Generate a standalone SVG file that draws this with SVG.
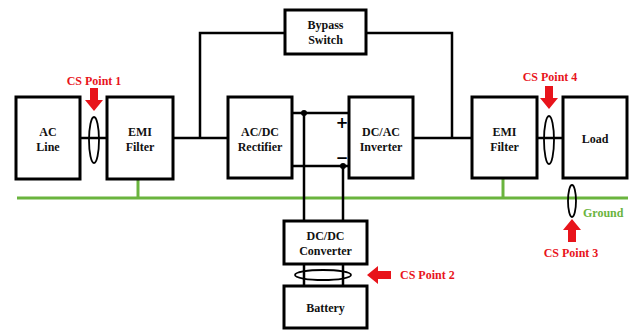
<svg xmlns="http://www.w3.org/2000/svg" width="632" height="332" viewBox="0 0 632 332">
<defs>
<style>
.box{fill:#fff;stroke:#000;stroke-width:3}
.w{fill:none;stroke:#000;stroke-width:2.5}
.g{fill:none;stroke:#6ab43e;stroke-width:3}
.ring{fill:none;stroke:#000;stroke-width:1.8}
.t{font-family:"Liberation Serif","Times New Roman",serif;font-weight:bold;font-size:12px;text-anchor:middle;fill:#111}
.r{font-family:"Liberation Serif","Times New Roman",serif;font-weight:bold;font-size:12px;fill:#e8141b}
.gt{font-family:"Liberation Serif","Times New Roman",serif;font-weight:bold;font-size:12px;fill:#6ab43e}
.arr{fill:#e8141b}
.sign{font-family:"DejaVu Sans",sans-serif;font-weight:bold;font-size:15px;text-anchor:middle;fill:#000}
</style>
</defs>
<rect width="632" height="332" fill="#fff"/>
<g id="connectors">
<line class="g" x1="17" y1="198" x2="628" y2="198"/>
<line class="g" x1="138" y1="179" x2="138" y2="198"/>
<line class="g" x1="503" y1="178" x2="503" y2="198"/>
<line class="w" x1="80" y1="138" x2="107" y2="138"/>
<line class="w" x1="173" y1="138" x2="228" y2="138"/>
<polyline class="w" points="200,138 200,33 285,33"/>
<polyline class="w" points="366,33 452,33 452,138"/>
<line class="w" x1="413" y1="138" x2="472" y2="138"/>
<line class="w" x1="537" y1="138" x2="563" y2="138"/>
<line class="w" x1="292" y1="113" x2="349" y2="113"/>
<line class="w" x1="292" y1="166" x2="349" y2="166"/>
<line class="w" x1="304" y1="113" x2="304" y2="286"/>
<line class="w" x1="343" y1="166" x2="343" y2="286"/>
<circle cx="304" cy="113" r="3"/>
<circle cx="343" cy="166" r="3"/>
<text x="342" y="128" class="sign">+</text>
<text x="342" y="163" class="sign">−</text>
</g>
<g id="ac-line"><rect class="box" x="16" y="97" width="64" height="82"/><text class="t" x="48" y="136">AC</text><text class="t" x="48" y="151">Line</text></g>
<g id="emi-filter-1"><rect class="box" x="107" y="97" width="66" height="82"/><text class="t" x="140" y="136">EMI</text><text class="t" x="140" y="151">Filter</text></g>
<g id="bypass-switch"><rect class="box" x="285" y="10" width="81" height="44"/><text class="t" x="325.5" y="29">Bypass</text><text class="t" x="325.5" y="44">Switch</text></g>
<g id="acdc-rectifier"><rect class="box" x="228" y="97" width="64" height="81"/><text class="t" x="260" y="136">AC/DC</text><text class="t" x="260" y="151">Rectifier</text></g>
<g id="dcac-inverter"><rect class="box" x="349" y="97" width="64" height="81"/><text class="t" x="381" y="136">DC/AC</text><text class="t" x="381" y="151">Inverter</text></g>
<g id="emi-filter-2"><rect class="box" x="472" y="97" width="65" height="81"/><text class="t" x="504.5" y="136">EMI</text><text class="t" x="504.5" y="151">Filter</text></g>
<g id="load"><rect class="box" x="563" y="97" width="64" height="81"/><text class="t" x="595" y="143">Load</text></g>
<g id="dcdc-converter"><rect class="box" x="284" y="221" width="83" height="43"/><text class="t" x="325.5" y="240">DC/DC</text><text class="t" x="325.5" y="255">Converter</text></g>
<g id="battery"><rect class="box" x="284" y="286" width="83" height="42"/><text class="t" x="325.5" y="312">Battery</text></g>
<g id="cs-point-1"><ellipse class="ring" cx="94" cy="140" rx="5" ry="23"/><path class="arr" d="M90,88 H98 V100 H103 L94,111 L85,100 H90 Z"/><text class="r" x="94" y="85" text-anchor="middle">CS Point 1</text></g>
<g id="cs-point-4"><ellipse class="ring" cx="549" cy="140" rx="5" ry="24"/><path class="arr" d="M545,86 H553 V98 H558 L549,109 L540,98 H545 Z"/><text class="r" x="550" y="81" text-anchor="middle">CS Point 4</text></g>
<g id="cs-point-3"><ellipse class="ring" cx="572" cy="201" rx="4" ry="16"/><path class="arr" d="M572,219 L581,230 H576 V242 H568 V230 H563 Z"/><text class="r" x="571" y="257" text-anchor="middle">CS Point 3</text><text class="gt" x="583" y="217">Ground</text></g>
<g id="cs-point-2"><ellipse class="ring" cx="323" cy="275" rx="28" ry="5"/><path class="arr" d="M367,275 L378,266 V271 H391 V279 H378 V284 Z"/><text class="r" x="400" y="279">CS Point 2</text></g>
</svg>
